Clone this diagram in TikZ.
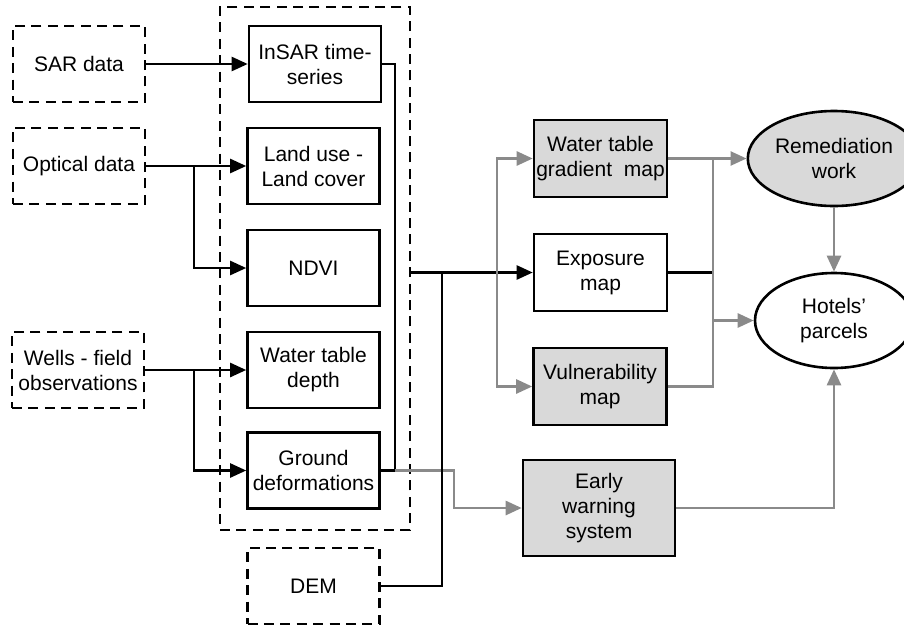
\documentclass[tikz,border=0pt]{standalone}
\usepackage{fontspec}
\setmainfont{Liberation Sans}
\usetikzlibrary{arrows.meta,shapes.geometric}
\definecolor{boxgray}{RGB}{217,217,217}
\definecolor{linegray}{RGB}{138,138,138}

\begin{document}
\begin{tikzpicture}[line cap=butt,line join=miter,>={Triangle[length=8pt,width=7pt]},x={(0.5pt,0pt)},y={(0pt,-0.5pt)},
	every node/.style={font=\fontsize{10.5}{12.5}\selectfont,align=center,inner sep=1pt},
	srcbox/.style={draw,line width=1.3pt,dash pattern=on 5pt off 3.2pt,minimum width=66pt,minimum height=38pt},
	layerbox/.style={draw,line width=1.3pt,minimum width=66pt,minimum height=38pt},
	mapbox/.style={draw,line width=1.3pt,fill=boxgray,minimum width=66.5pt,minimum height=38.5pt},
	goal/.style={draw,ellipse,line width=1.3pt,minimum width=79pt,minimum height=47.5pt},
	blk/.style={line width=1.2pt,->},
	gry/.style={line width=1.3pt,draw=linegray,color=linegray,->}]%bloc 1
	\useasboundingbox (0,0) rectangle (904,627);
	\clip (0,0) rectangle (904,627);
	\node[srcbox] (sar) at (79,64) {SAR data};
	\node[srcbox] (opt) at (79,166) {Optical data};
	\node[srcbox] (wells) at (78,370) {Wells - field\\observations};
	\node[draw,line width=1.3pt,dash pattern=on 5pt off 3.2pt,minimum width=95pt,minimum height=261.5pt] (grp) at (315,268.5) {};
	\node[layerbox] (insar) at (315,64) {InSAR time-\\series};
	\node[layerbox] (landuse) at (313.5,166) {Land use -\\Land cover};
	\node[layerbox] (ndvi) at (313.5,268) {NDVI};
	\node[layerbox] (wtd) at (313.5,370) {Water table\\depth};
	\node[layerbox] (gdef) at (313.5,470.5) {Ground\\deformations};
	\node[srcbox] (dem) at (313.5,586) {DEM};
	\node[mapbox] (wtg) at (600.5,158.5) {Water table\\gradient\ \ map};
	\node[layerbox,minimum width=66.5pt,minimum height=38.5pt] (expo) at (600.5,272.5) {Exposure\\map};
	\node[mapbox] (vul) at (600,386.5) {Vulnerability\\map};
	\node[mapbox,minimum width=76pt,minimum height=48pt] (ews) at (599,508) {Early\\warning\\system};
	\node[goal,fill=boxgray] (rem) at (834,158.5) {Remediation\\work};
	\node[goal] (hot) at (834,320.5) {Hotels’\\parcels};
	\coordinate (optsplit) at (194,166);
	\coordinate (wellsplit) at (194,370);
	\coordinate (gjoin) at (395,470.5);
	\coordinate (ewsbend) at (454,470.5);
	\coordinate (demjoin) at (442,272.5);
	\coordinate (mapsplit) at (497,272.5);
	\coordinate (outsplit) at (713,272.5);
	% inputs
	\draw[blk] (sar) -- (insar);
	\draw[blk] (opt) -- (landuse);
	\draw[blk] (optsplit) |- (ndvi.west);
	\draw[blk] (wells) -- (wtd);
	\draw[blk] (wellsplit) |- (gdef.west);
	\draw[blk,-] (insar.east) -| (gjoin);
	\draw[blk,-] (gdef.east) -- (gjoin);
	\draw[gry] (gjoin) -- (ewsbend) |- (ews.west);
	\draw[blk] (grp.east |- expo.west) -- (expo.west);
	\draw[blk,-] (dem.east) -| (demjoin);
	\draw[gry] (mapsplit) |- (wtg.west);
	\draw[gry] (mapsplit) |- (vul.west);
	% outputs
	\draw[gry] (wtg) -- (rem);
	\draw[blk,-] (expo.east) -- (outsplit);
	\draw[gry,-] (vul.east) -| (wtg.east -| outsplit);
	\draw[gry] (outsplit |- hot.west) -- (hot.west);
	\draw[gry] (rem) -- (hot);
	\draw[gry] (ews.east) -| (hot.south);
\end{tikzpicture}
\end{document}
